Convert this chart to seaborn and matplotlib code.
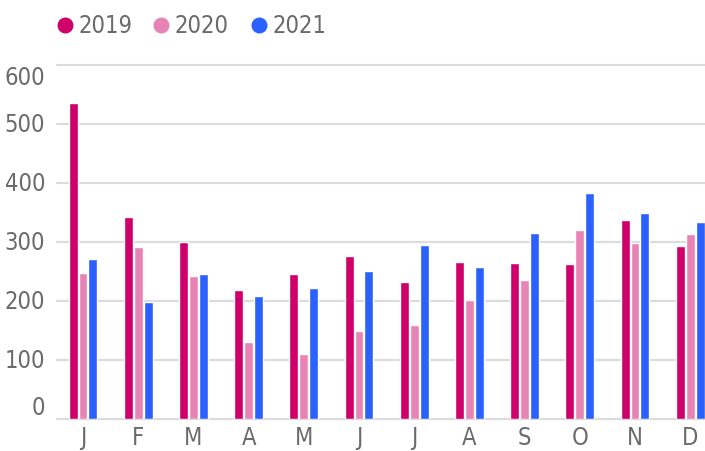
import pandas as pd
import seaborn as sns
import matplotlib.pyplot as plt
from matplotlib.lines import Line2D

# Data
months = ["J", "F", "M", "A", "M", "J", "J", "A", "S", "O", "N", "D"]
years = ["2019", "2020", "2021"]
values_2019 = [535, 342, 300, 219, 246, 277, 232, 266, 264, 262, 337, 293]
values_2020 = [248, 291, 243, 130, 110, 149, 159, 201, 235, 320, 299, 314]
values_2021 = [272, 198, 245, 208, 222, 251, 295, 257, 315, 383, 349, 334]
y_ticks = [0, 100, 200, 300, 400, 500, 600]

colors = {"2019": "#D0006A", "2020": "#E884B5", "2021": "#2B61FF"}
text_color = "#6b6b6b"

# long-form table for seaborn
rows = []
for year, vals in zip(years, [values_2019, values_2020, values_2021]):
    for i, v in enumerate(vals):
        rows.append({"pos": i, "year": year, "value": v})
df = pd.DataFrame(rows)

sns.set_theme(style="white")
plt.rcParams["font.family"] = ["DejaVu Sans"]
plt.rcParams["font.stretch"] = "condensed"

W, H = 705, 452
fig = plt.figure(figsize=(W / 100, H / 100), dpi=100)
ax = fig.add_axes([57 / W, 32 / H, (W - 57) / W, (420 - 66) / H])

sns.barplot(data=df, x="pos", y="value", hue="year", palette=colors,
            width=0.54, gap=0.1, dodge=True, legend=False, ax=ax,
            order=list(range(12)), hue_order=years, saturation=1)

ax.set_ylim(0, 600)
ax.set_xlim(-0.471, 11.268)
ax.set_yticks(y_ticks)
ax.set_yticklabels([str(t) for t in y_ticks])
ax.set_xticks(range(12))
ax.set_xticklabels(months)
ax.set_xlabel("")
ax.set_ylabel("")
ax.grid(axis="y", color="#dcdcdc", linewidth=1.6)
ax.set_axisbelow(True)
for gl in ax.get_ygridlines():
    gl.set_clip_on(False)
for s in ax.spines.values():
    s.set_visible(False)
ax.tick_params(axis="both", length=0, labelsize=17, labelcolor=text_color)
ax.tick_params(axis="x", pad=4)
ax.tick_params(axis="y", pad=8.5)

# end labels stay inside the plot area like the original
labels = ax.get_yticklabels()
labels[0].set_va("bottom")
labels[-1].set_va("top")
for lab in labels[1:-1]:
    lab.set_va("center")

# legend row across the top
legend_x = [65, 161, 259]
for x, year in zip(legend_x, years):
    fig.add_artist(Line2D([x / W], [1 - 26 / H], marker="o", markersize=10.5,
                          color=colors[year], linestyle="", transform=fig.transFigure))
    fig.text((x + 14) / W, 1 - 26 / H, year, fontsize=17, color=text_color,
             va="center", ha="left")

fig.savefig("out.png", dpi=100)
